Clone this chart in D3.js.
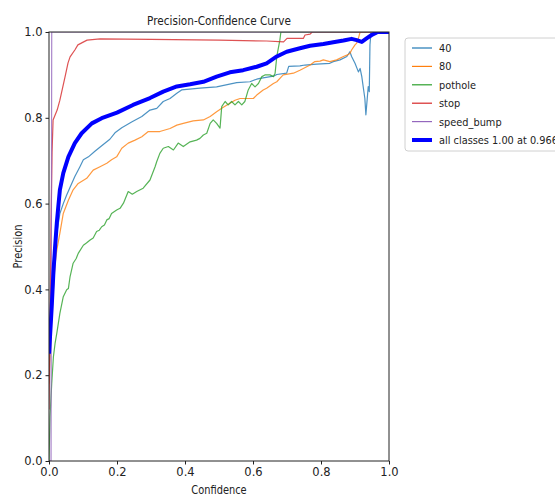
<!DOCTYPE html>
<html>
<head>
<meta charset="utf-8">
<script src="https://cdn.jsdelivr.net/npm/d3@7"></script>
<style>
  html, body { margin: 0; padding: 0; background: #fff; }
  svg { display: block; font-family: "DejaVu Sans", sans-serif; }
</style>
</head>
<body>
<svg id="chart" width="555" height="497"></svg>
<script>
// ----- data: [confidence, precision] -----
const class40 = [[0,0.2],[0.004,0.3],[0.01,0.4],[0.016,0.47],[0.023,0.531],[0.032,0.577],[0.042,0.6],[0.052,0.62],[0.062,0.638],[0.076,0.663],[0.091,0.686],[0.101,0.702],[0.116,0.709],[0.135,0.722],[0.155,0.735],[0.179,0.75],[0.194,0.765],[0.214,0.777],[0.243,0.79],[0.273,0.803],[0.297,0.818],[0.317,0.822],[0.336,0.838],[0.356,0.845],[0.376,0.857],[0.39,0.865],[0.444,0.869],[0.493,0.872],[0.552,0.882],[0.591,0.884],[0.611,0.89],[0.621,0.892],[0.66,0.897],[0.67,0.901],[0.699,0.904],[0.705,0.92],[0.738,0.921],[0.753,0.923],[0.787,0.925],[0.826,0.927],[0.836,0.931],[0.856,0.935],[0.876,0.943],[0.885,0.954],[0.89,0.943],[0.9,0.927],[0.91,0.907],[0.915,0.915],[0.92,0.896],[0.924,0.873],[0.929,0.845],[0.932,0.807],[0.936,0.845],[0.939,0.873],[0.942,0.861],[0.944,0.97],[0.947,1.0],[1,1]];

const class80 = [[0,0.18],[0.003,0.259],[0.008,0.33],[0.013,0.399],[0.018,0.46],[0.023,0.492],[0.032,0.531],[0.042,0.577],[0.057,0.608],[0.071,0.632],[0.086,0.647],[0.111,0.659],[0.13,0.678],[0.15,0.686],[0.17,0.694],[0.184,0.702],[0.199,0.709],[0.214,0.729],[0.233,0.741],[0.253,0.748],[0.273,0.756],[0.292,0.768],[0.326,0.768],[0.356,0.775],[0.376,0.783],[0.395,0.787],[0.424,0.793],[0.454,0.795],[0.474,0.803],[0.493,0.814],[0.508,0.822],[0.532,0.834],[0.547,0.841],[0.562,0.845],[0.601,0.845],[0.611,0.853],[0.63,0.865],[0.64,0.869],[0.66,0.88],[0.67,0.884],[0.684,0.896],[0.689,0.9],[0.719,0.904],[0.738,0.911],[0.748,0.915],[0.758,0.919],[0.768,0.923],[0.782,0.931],[0.797,0.932],[0.807,0.935],[0.826,0.931],[0.846,0.935],[0.866,0.943],[0.876,0.946],[0.885,0.95],[0.89,0.958],[0.9,0.97],[0.905,0.974],[0.91,0.985],[0.915,1.0],[1,1]];

const pothole = [[0,0],[0.003,0.103],[0.008,0.181],[0.013,0.243],[0.018,0.275],[0.023,0.298],[0.032,0.344],[0.042,0.383],[0.052,0.399],[0.057,0.402],[0.062,0.43],[0.071,0.461],[0.08,0.472],[0.086,0.484],[0.101,0.503],[0.11,0.508],[0.121,0.515],[0.13,0.52],[0.14,0.535],[0.148,0.538],[0.155,0.546],[0.163,0.55],[0.17,0.562],[0.177,0.565],[0.184,0.577],[0.199,0.585],[0.209,0.589],[0.219,0.601],[0.233,0.628],[0.245,0.622],[0.258,0.628],[0.277,0.636],[0.297,0.655],[0.312,0.686],[0.317,0.698],[0.326,0.717],[0.336,0.729],[0.351,0.733],[0.366,0.725],[0.38,0.741],[0.395,0.733],[0.415,0.744],[0.434,0.748],[0.444,0.752],[0.454,0.76],[0.464,0.764],[0.474,0.787],[0.483,0.795],[0.493,0.787],[0.503,0.776],[0.508,0.826],[0.518,0.838],[0.527,0.83],[0.537,0.838],[0.547,0.83],[0.557,0.838],[0.567,0.83],[0.576,0.838],[0.586,0.865],[0.596,0.88],[0.606,0.872],[0.616,0.88],[0.626,0.896],[0.635,0.9],[0.65,0.9],[0.66,0.896],[0.665,0.904],[0.67,0.943],[0.679,0.981],[0.682,1.0],[1,1]];

const stop = [[0,0.12],[0.003,0.3],[0.006,0.55],[0.009,0.72],[0.012,0.795],[0.024,0.818],[0.032,0.841],[0.047,0.895],[0.056,0.928],[0.062,0.942],[0.076,0.958],[0.085,0.97],[0.112,0.981],[0.15,0.984],[0.3,0.983],[0.5,0.981],[0.64,0.979],[0.69,0.977],[0.7,0.985],[0.748,0.985],[0.753,0.993],[0.768,0.995],[0.774,1.0],[1,1]];

const speedBump = [[0,0],[0.006,0],[0.008,1],[1,1]];

const allClasses = [[0,0.25],[0.003,0.29],[0.008,0.36],[0.013,0.44],[0.018,0.5],[0.023,0.555],[0.027,0.59],[0.032,0.632],[0.042,0.671],[0.057,0.709],[0.076,0.741],[0.096,0.764],[0.126,0.787],[0.155,0.799],[0.2,0.812],[0.247,0.83],[0.297,0.846],[0.336,0.861],[0.376,0.873],[0.415,0.878],[0.454,0.884],[0.493,0.896],[0.532,0.906],[0.571,0.911],[0.611,0.919],[0.64,0.927],[0.67,0.943],[0.699,0.954],[0.738,0.962],[0.768,0.968],[0.807,0.972],[0.836,0.976],[0.866,0.98],[0.89,0.984],[0.905,0.981],[0.92,0.977],[0.934,0.985],[0.949,0.993],[0.964,0.999],[0.966,1.0],[1,1]];

const seriesNames = ['40', '80', 'pothole', 'stop', 'speed_bump', 'all classes 1.00 at 0.966'];
const seriesColors = ['#1f77b4', '#ff7f0e', '#2ca02c', '#d62728', '#9467bd', '#0000ff'];
const seriesData = [class40, class80, pothole, stop, speedBump, allClasses];

const xTicks = [0, 0.2, 0.4, 0.6, 0.8, 1.0];
const yTicks = [0, 0.2, 0.4, 0.6, 0.8, 1.0];

// ----- layout -----
const margin = { left: 49, top: 32, right: 389, bottom: 461 };
const svg = d3.select('#chart');

const x = d3.scaleLinear().domain([0, 1]).range([margin.left, margin.right]);
const y = d3.scaleLinear().domain([0, 1]).range([margin.bottom, margin.top]);

svg.append('defs').append('clipPath').attr('id', 'plot-clip')
  .append('rect')
  .attr('x', margin.left).attr('y', margin.top)
  .attr('width', margin.right - margin.left)
  .attr('height', margin.bottom - margin.top);

const line = d3.line().x(d => x(d[0])).y(d => y(d[1]));

// curves (classes first, all classes on top)
const curves = svg.append('g').attr('clip-path', 'url(#plot-clip)');
seriesData.forEach((data, i) => {
  const isAll = i === seriesData.length - 1;
  curves.append('path')
    .datum(data)
    .attr('d', line)
    .attr('fill', 'none')
    .attr('stroke', seriesColors[i])
    .attr('stroke-width', isAll ? 4 : 1.2)
    .attr('stroke-opacity', isAll ? 1 : 0.8)
    .attr('stroke-linejoin', 'round');
});

// axes
const xAxis = svg.append('g')
  .attr('transform', `translate(0,${margin.bottom})`)
  .call(d3.axisBottom(x).tickValues(xTicks).tickFormat(d3.format('.1f')).tickSize(3.5).tickPadding(3));
const yAxis = svg.append('g')
  .attr('transform', `translate(${margin.left},0)`)
  .call(d3.axisLeft(y).tickValues(yTicks).tickFormat(d3.format('.1f')).tickSize(3.5).tickPadding(3));

[xAxis, yAxis].forEach(a => {
  a.select('.domain').remove();
  a.selectAll('line').attr('stroke', '#222');
  a.selectAll('text')
    .attr('fill', '#222')
    .style('font-family', '"DejaVu Sans", sans-serif')
    .style('font-size', '11.5px');
});

// spines
svg.append('rect')
  .attr('x', margin.left).attr('y', margin.top)
  .attr('width', margin.right - margin.left)
  .attr('height', margin.bottom - margin.top)
  .attr('fill', 'none').attr('stroke', '#222').attr('stroke-width', 1);

// title and axis labels (text is narrow in the picture, so squeeze it)
svg.append('text')
  .attr('transform', `translate(${(margin.left + margin.right) / 2},25) scale(0.84,1)`)
  .attr('text-anchor', 'middle')
  .style('font-size', '12.5px')
  .attr('fill', '#222')
  .text('Precision-Confidence Curve');

svg.append('text')
  .attr('transform', `translate(${(margin.left + margin.right) / 2},494) scale(0.82,1)`)
  .attr('text-anchor', 'middle')
  .style('font-size', '12px')
  .attr('fill', '#222')
  .text('Confidence');

svg.append('text')
  .attr('transform', `translate(22,${(margin.top + margin.bottom) / 2}) rotate(-90) scale(0.82,1)`)
  .attr('text-anchor', 'middle')
  .style('font-size', '12px')
  .attr('fill', '#222')
  .text('Precision');

// legend
const legend = svg.append('g').attr('transform', 'translate(405,38)');
legend.append('rect')
  .attr('x', 0).attr('y', 0)
  .attr('width', 170).attr('height', 113)
  .attr('rx', 3)
  .attr('fill', '#fff').attr('fill-opacity', 0.8)
  .attr('stroke', '#d0d0d0').attr('stroke-width', 1);

seriesNames.forEach((name, i) => {
  const isAll = i === seriesNames.length - 1;
  const row = legend.append('g').attr('transform', `translate(0,${10 + i * 18.4})`);
  row.append('line')
    .attr('x1', 7).attr('x2', 27).attr('y1', 0).attr('y2', 0)
    .attr('stroke', seriesColors[i])
    .attr('stroke-width', isAll ? 4 : 1.2);
  row.append('text')
    .attr('transform', 'translate(34,4) scale(0.89,1)')
    .style('font-size', '11px')
    .attr('fill', '#222')
    .text(name);
});
</script>
</body>
</html>
